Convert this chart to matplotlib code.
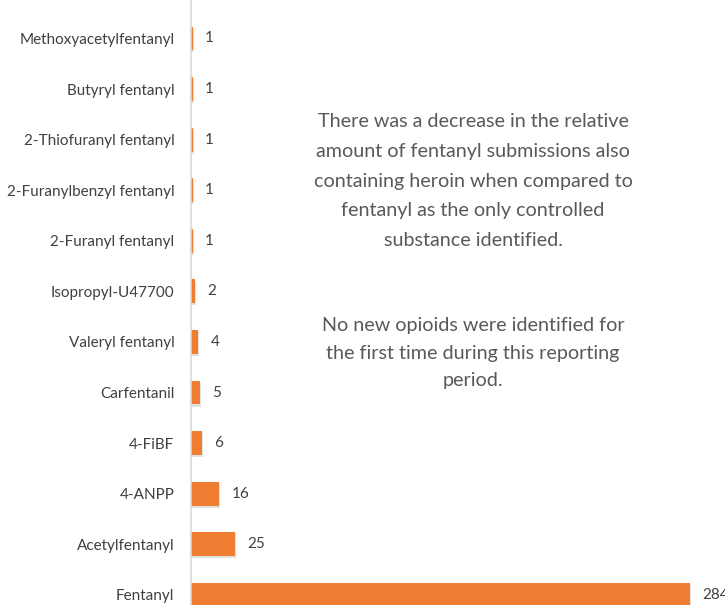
import matplotlib.pyplot as plt
import matplotlib.patheffects as pe

plt.rcParams['font.family'] = ['Lato', 'DejaVu Sans']

# data, bottom to top
drugs = ['Fentanyl', 'Acetylfentanyl', '4-ANPP', '4-FiBF', 'Carfentanil',
         'Valeryl fentanyl', 'Isopropyl-U47700', '2-Furanyl fentanyl',
         '2-Furanylbenzyl fentanyl', '2-Thiofuranyl fentanyl',
         'Butyryl fentanyl', 'Methoxyacetylfentanyl']
counts = [284, 25, 16, 6, 5, 4, 2, 1, 1, 1, 1, 1]

note1 = ("There was a decrease in the relative\namount of fentanyl submissions also\n"
         "containing heroin when compared to\nfentanyl as the only controlled\n"
         "substance identified.")
note2 = "No new opioids were identified for\nthe first time during this reporting\nperiod."

fig = plt.figure(figsize=(7.25, 6.05), dpi=100)
ax = fig.add_axes([191/725, 0, 534/725, 1])

ypos = list(range(len(drugs)))
bars = ax.barh(ypos, counts, height=0.47, color='#EF7D32', edgecolor='none')
for b in bars:
    b.set_path_effects([pe.SimplePatchShadow(offset=(1, -1.5), shadow_rgbFace='#aaaaaa', alpha=0.35),
                        pe.Normal()])

for y, c in zip(ypos, counts):
    ax.text(c + 7, y, str(c), va='center', ha='left', fontsize=11, color='#404040')

ax.set_xlim(0, 304)
ax.set_ylim(-0.2, 11.76)
ax.set_yticks(ypos)
ax.set_yticklabels(drugs, fontsize=11, color='#404040')
ax.tick_params(axis='y', length=0, pad=12)
ax.set_xticks([])
for s in ['top', 'right', 'bottom']:
    ax.spines[s].set_visible(False)
ax.spines['left'].set_color('#D9D9D9')
ax.spines['left'].set_linewidth(1.2)

fig.text(473/725, 1 - 181/605, note1, ha='center', va='center', fontsize=14.2,
         color='#595959', linespacing=1.9)
fig.text(473/725, 1 - 353/605, note2, ha='center', va='center', fontsize=14.2,
         color='#595959', linespacing=1.73)

fig.savefig('out.png', dpi=100)
